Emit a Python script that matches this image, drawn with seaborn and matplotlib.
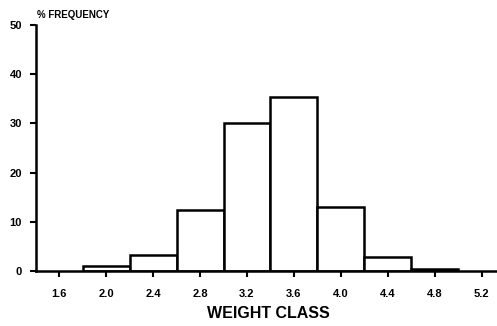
import numpy as np
import matplotlib
matplotlib.use("Agg")
import matplotlib.pyplot as plt
import seaborn as sns

# weight class bins (centres) and % frequency
bin_edges = [1.8, 2.2, 2.6, 3.0, 3.4, 3.8, 4.2, 4.6, 5.0]
bin_centres = [2.0, 2.4, 2.8, 3.2, 3.6, 4.0, 4.4, 4.8]
pct_freq = [0.9, 3.2, 12.3, 30.0, 35.4, 13.0, 2.9, 0.4]
x_ticks = [1.6, 2.0, 2.4, 2.8, 3.2, 3.6, 4.0, 4.4, 4.8, 5.2]
y_ticks = [0, 10, 20, 30, 40, 50]

sns.set_style("ticks", {"axes.edgecolor": "black", "xtick.color": "black",
                        "ytick.color": "black", "text.color": "black",
                        "axes.labelcolor": "black"})
plt.rcParams['font.family'] = ['Liberation Sans', 'DejaVu Sans']

fig = plt.figure(figsize=(4.97, 3.26), dpi=100)
ax = fig.add_axes([0.072, 0.169, 0.935, 0.754])

sns.histplot(x=bin_centres, weights=pct_freq, bins=bin_edges, ax=ax,
             color="white", edgecolor="black", linewidth=1.8, alpha=1)

ax.set_xlim(1.40, 5.36)
ax.set_ylim(0, 50)
ax.set_xticks(x_ticks)
ax.set_xticklabels([f"{t:.1f}" for t in x_ticks])
ax.set_yticks(y_ticks)
ax.tick_params(axis="both", length=4, width=1.5, labelsize=8, pad=6,
               colors="black")
ax.tick_params(axis="x", pad=9)
for lbl in ax.get_xticklabels() + ax.get_yticklabels():
    lbl.set_fontweight("bold")

sns.despine(ax=ax)
for side in ["left", "bottom"]:
    ax.spines[side].set_linewidth(1.8)

ax.set_ylabel("")
ax.set_xlabel("WEIGHT CLASS", fontsize=11.5, fontweight="bold", labelpad=5,
              color="black")
fig.text(0.074, 0.955, "% FREQUENCY", fontsize=7, fontweight="bold",
         ha="left", va="center", color="black")

fig.savefig("out.png", dpi=100)
